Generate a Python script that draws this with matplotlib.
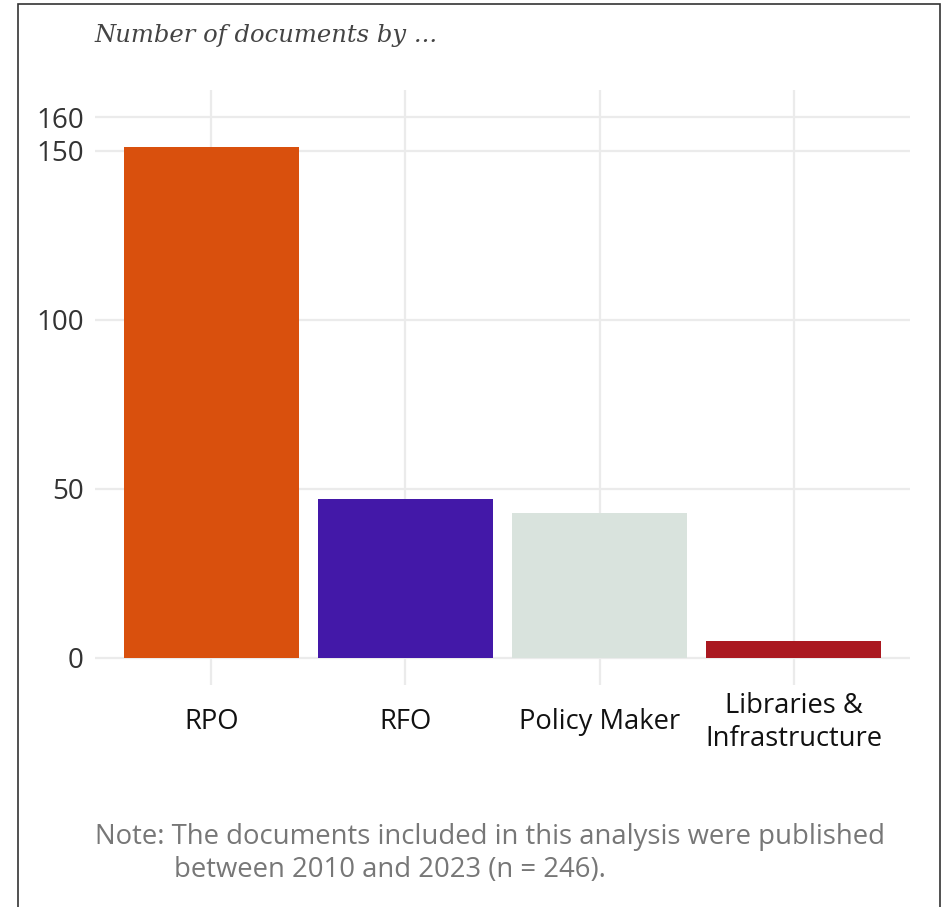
import matplotlib.pyplot as plt
from matplotlib.patches import Rectangle

# data
categories = ["RPO", "RFO", "Policy Maker", "Libraries &\nInfrastructure"]
counts = [151, 47, 43, 5]
bar_colors = ["#D9500D", "#4318A8", "#D9E3DD", "#AA1820"]
y_ticks = [0, 50, 100, 150, 160]

plt.rcParams['font.family'] = ['Open Sans', 'DejaVu Sans']

fig = plt.figure(figsize=(9.49, 9.07), dpi=100)
ax = fig.add_axes([0.100, 0.2448, 0.859, 0.656])

x = range(len(categories))
ax.bar(x, counts, width=0.9, color=bar_colors, zorder=2)

ax.set_xlim(-0.6, 3.6)
ax.set_ylim(-8, 168)
ax.set_yticks(y_ticks)
ax.set_xticks(list(x))
ax.set_xticklabels(categories)

ax.grid(True, color="#ebebeb", linewidth=1.6, zorder=0)
ax.set_axisbelow(True)
for s in ax.spines.values():
    s.set_visible(False)

ax.tick_params(axis='y', length=0, pad=8, labelsize=20, labelcolor="#333333")
ax.tick_params(axis='x', length=0, pad=27, labelsize=19.7, labelcolor="#111111")
for lab in ax.get_xticklabels():
    lab.set_va('center')
    lab.set_linespacing(1.2)

# title
fig.text(0.100, 0.961, "Number of documents by ...", family=['DejaVu Serif'],
         style='italic', fontsize=17.5, color="#444444", va='center', ha='left')

# note
fig.text(0.100, 1 - 837 / 907, "Note: The documents included in this analysis were published",
         fontsize=19.8, color="#777777", va='center', ha='left')
fig.text(0.183, 1 - 870 / 907, "between 2010 and 2023 (n = 246).",
         fontsize=19.8, color="#777777", va='center', ha='left')

# frame around the card
fig.add_artist(Rectangle((18 / 949, -0.05), (940 - 18) / 949, 1.05 - 3.5 / 907,
                         transform=fig.transFigure, fill=False, edgecolor="#333333",
                         linewidth=1.2))

fig.savefig("out.png", dpi=100)
